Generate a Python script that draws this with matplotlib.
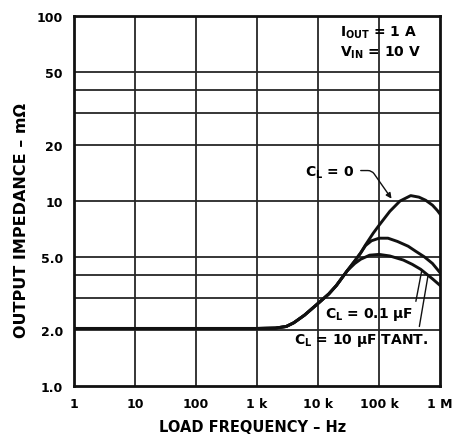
import matplotlib
matplotlib.use("Agg")
import matplotlib.pyplot as plt
from matplotlib.ticker import NullLocator

plt.rcParams['font.family'] = ['DejaVu Sans']
plt.rcParams['font.weight'] = 'bold'
plt.rcParams['mathtext.fontset'] = 'custom'
plt.rcParams['mathtext.rm'] = 'DejaVu Sans:bold'
plt.rcParams['mathtext.it'] = 'DejaVu Sans:bold'
plt.rcParams['mathtext.bf'] = 'DejaVu Sans:bold'

# common low-frequency part (all three loads overlap here)
f_base = [1, 10, 100, 1e3, 2e3, 3e3, 4e3, 6e3, 1e4, 1.5e4, 2e4, 3e4]
z_base = [2.05, 2.05, 2.05, 2.05, 2.06, 2.1, 2.2, 2.42, 2.8, 3.15, 3.5, 4.2]

# CL = 0
f_cl0 = [4e4, 5e4, 6e4, 8e4, 1e5, 1.5e5, 2.2e5, 3.3e5, 4.5e5, 5.8e5, 7.5e5, 9e5, 1e6]
z_cl0 = [4.75, 5.25, 5.8, 6.7, 7.4, 8.8, 10.0, 10.7, 10.5, 10.1, 9.5, 8.9, 8.5]

# CL = 0.1 uF
f_cl01 = [4e4, 5e4, 6e4, 7.5e4, 1e5, 1.4e5, 2e5, 3e5, 4e5, 5.5e5, 7.5e5, 1e6]
z_cl01 = [4.75, 5.25, 5.75, 6.1, 6.3, 6.3, 6.05, 5.7, 5.35, 5.0, 4.6, 4.1]

# CL = 10 uF tantalum
f_cl10 = [4e4, 5e4, 7e4, 1e5, 1.5e5, 2.5e5, 3.5e5, 4.8e5, 7.5e5, 1e6]
z_cl10 = [4.6, 4.85, 5.1, 5.15, 5.05, 4.8, 4.55, 4.28, 3.8, 3.5]

x_ticks = [1, 10, 100, 1e3, 1e4, 1e5, 1e6]
x_labels = ['1', '10', '100', '1 k', '10 k', '100 k', '1 M']
y_ticks = [1, 2, 5, 10, 20, 50, 100]
y_labels = ['1.0', '2.0', '5.0', '10', '20', '50', '100']
h_grid = [2, 3, 4, 5, 10, 20, 30, 40, 50]

fig = plt.figure(figsize=(4.57, 4.35), dpi=100)
ax = fig.add_axes([0.162, 0.110, 0.801, 0.851])
ax.set_xscale('log')
ax.set_yscale('log')
ax.set_xlim(1, 1e6)
ax.set_ylim(1, 100)

for y in h_grid:
    ax.axhline(y, color='#262626', lw=1.3, zorder=1)
for x in x_ticks[1:-1]:
    ax.axvline(x, color='#262626', lw=1.3, zorder=1)

for f, z in [(f_cl0, z_cl0), (f_cl01, z_cl01), (f_cl10, z_cl10)]:
    ax.plot(f_base + f, z_base + z, color='#111111', lw=2.1, zorder=3)

ax.set_xticks(x_ticks)
ax.set_xticklabels(x_labels)
ax.set_yticks(y_ticks)
ax.set_yticklabels(y_labels)
ax.xaxis.set_minor_locator(NullLocator())
ax.yaxis.set_minor_locator(NullLocator())
ax.tick_params(length=0, labelsize=9, pad=8)

for s in ax.spines.values():
    s.set_linewidth(2.0)
    s.set_color('#111111')

ax.set_xlabel('LOAD FREQUENCY – Hz', fontsize=10.5, fontweight='bold')
ax.set_ylabel('OUTPUT IMPEDANCE – mΩ', fontsize=11.5, fontweight='bold')
ax.xaxis.label.set_va('baseline')
ax.xaxis.set_label_coords(0.489, -0.122)
ax.yaxis.set_label_coords(-0.124, 0.45)

ax.text(0.727, 0.957, r'I$_{\mathrm{OUT}}$ = 1 A', transform=ax.transAxes,
        fontsize=10, ha='left', va='center')
ax.text(0.727, 0.903, r'V$_{\mathrm{IN}}$ = 10 V', transform=ax.transAxes,
        fontsize=10, ha='left', va='center')

ax.annotate(r'C$_{\mathrm{L}}$ = 0', xy=(1.6e5, 10.3), xycoords='data',
            xytext=(0.697, 0.578), textcoords='axes fraction',
            fontsize=10, ha='center', va='center',
            arrowprops=dict(arrowstyle='-|>', color='#111111', lw=1.0,
                            mutation_scale=8, relpos=(1.0, 0.6),
                            shrinkA=3, shrinkB=0,
                            connectionstyle='angle,angleA=0,angleB=125,rad=4'))
ax.annotate(r'C$_{\mathrm{L}}$ = 0.1 µF', xy=(4.98e5, 4.18), xycoords='data',
            xytext=(0.806, 0.195), textcoords='axes fraction',
            fontsize=10, ha='center', va='center',
            arrowprops=dict(arrowstyle='-', color='#111111', lw=1.0,
                            relpos=(1.0, 0.4), shrinkA=1, shrinkB=0))
ax.annotate(r'C$_{\mathrm{L}}$ = 10 µF TANT.', xy=(6.36e5, 3.98), xycoords='data',
            xytext=(0.784, 0.127), textcoords='axes fraction',
            fontsize=10, ha='center', va='center',
            arrowprops=dict(arrowstyle='-', color='#111111', lw=1.0,
                            relpos=(0.93, 1.0), shrinkA=1, shrinkB=0))

fig.savefig('out.png', dpi=100)
